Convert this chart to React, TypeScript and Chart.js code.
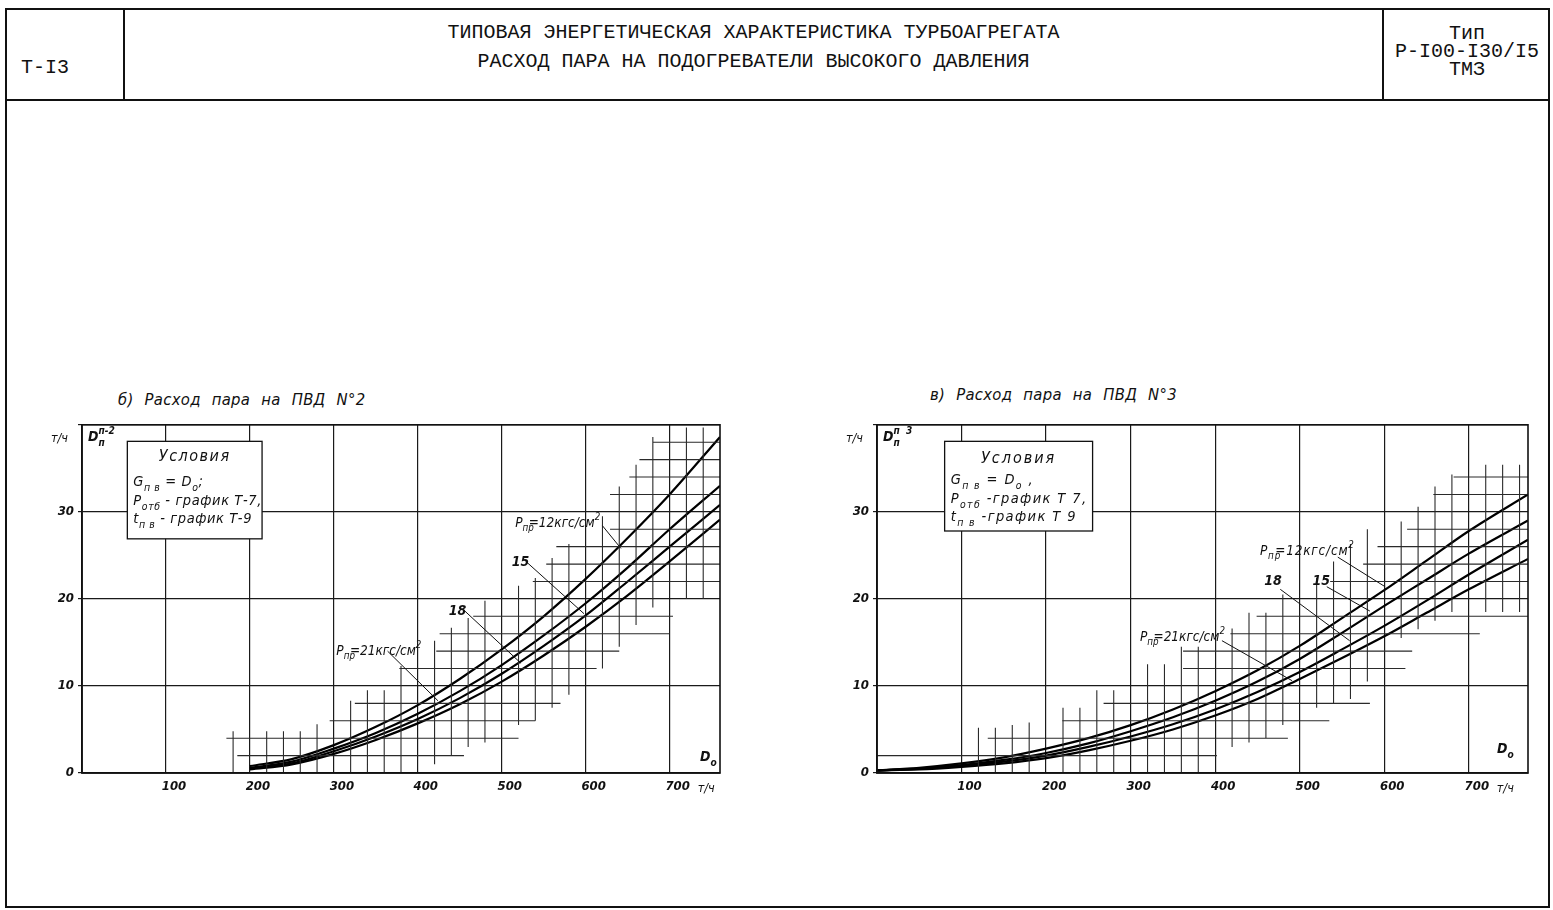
import React, { useEffect, useRef } from "react";
import { Chart, registerables } from "chart.js";
Chart.register(...registerables);

// ---------- data ----------
const X_TICKS = [0, 100, 200, 300, 400, 500, 600, 700];
const Y_TICKS = [0, 10, 20, 30, 40];

// Left chart: ПВД №2
const LEFT_D = [200, 250, 300, 350, 400, 450, 500, 550, 600, 650, 700, 760];
const LEFT_P12 = [0.8, 1.6, 3.2, 5.3, 7.8, 10.8, 14.2, 18.0, 22.3, 27.0, 32.0, 38.6];
const LEFT_P15 = [0.6, 1.3, 2.8, 4.6, 6.8, 9.4, 12.4, 15.8, 19.5, 23.6, 28.0, 33.0];
const LEFT_P18 = [0.5, 1.1, 2.5, 4.2, 6.2, 8.6, 11.4, 14.6, 18.1, 22.0, 26.0, 30.8];
const LEFT_P21 = [0.4, 1.0, 2.2, 3.8, 5.7, 7.9, 10.5, 13.5, 16.8, 20.4, 24.3, 29.1];

// Right chart: ПВД №3
const RIGHT_D = [0, 50, 100, 150, 200, 250, 300, 350, 400, 450, 500, 550, 600, 650, 700, 770];
const RIGHT_P12 = [0.3, 0.6, 1.1, 1.8, 2.8, 4.0, 5.5, 7.3, 9.4, 11.8, 14.6, 17.8, 21.0, 24.4, 27.8, 32.0];
const RIGHT_P15 = [0.3, 0.5, 0.9, 1.5, 2.3, 3.4, 4.8, 6.4, 8.3, 10.5, 13.1, 16.1, 19.2, 22.2, 25.2, 29.0];
const RIGHT_P18 = [0.3, 0.5, 0.8, 1.3, 2.0, 3.0, 4.2, 5.6, 7.3, 9.3, 11.6, 14.2, 16.9, 19.8, 22.8, 26.8];
const RIGHT_P21 = [0.3, 0.4, 0.7, 1.1, 1.7, 2.6, 3.7, 5.0, 6.6, 8.5, 10.8, 13.2, 15.7, 18.4, 21.1, 24.6];

// Fine reading mesh: vertical [D, from, to], horizontal [value, fromD, toD]
const LEFT_MESH_V: number[][] = [
  [180, 0, 4.8], [220, 0, 4.8], [240, 0, 4.8], [260, 0, 4.8], [280, 0, 5.6],
  [320, 0, 8.3], [340, 0, 9.5], [360, 0, 9.5], [380, 0, 12.3],
  [420, 1.0, 15.2], [440, 2.0, 16.7], [460, 3.0, 17.8], [480, 3.5, 19.8],
  [520, 5.5, 21.5], [540, 6.0, 22.4], [560, 7.5, 24.7], [580, 9.0, 26.3],
  [620, 12.0, 29.5], [640, 14.5, 32.9], [660, 17.0, 35.4], [680, 19.0, 38.6],
  [720, 20.0, 39.7], [740, 20.0, 39.7],
];
const LEFT_MESH_H: number[][] = [
  [2, 185, 455], [4, 172, 520], [6, 295, 540], [8, 325, 570],
  [12, 378, 613], [14, 422, 640], [16, 426, 700], [18, 466, 704],
  [22, 537, 760], [24, 553, 760], [26, 565, 760], [28, 629, 760],
  [32, 629, 760], [34, 652, 760], [36, 664, 760], [38, 680, 760],
];
const RIGHT_MESH_V: number[][] = [
  [120, 0, 5.2], [140, 0, 5.2], [160, 0, 5.5], [180, 0, 5.8],
  [220, 0, 7.5], [240, 0, 7.5], [260, 0, 9.5], [280, 0, 9.5],
  [320, 0, 12.5], [340, 0, 12.5], [360, 0, 14.5], [380, 0, 14.5],
  [420, 3.0, 16.6], [440, 3.5, 18.4], [460, 4.0, 18.4], [480, 5.5, 20.5],
  [520, 7.5, 22.4], [540, 8.0, 24.3], [560, 8.5, 26.3], [580, 10.5, 28.0],
  [620, 15.5, 28.9], [640, 16.5, 30.6], [660, 17.5, 32.9], [680, 18.5, 34.3],
  [720, 18.5, 35.4], [740, 18.5, 35.4], [760, 18.5, 35.4],
];
const RIGHT_MESH_H: number[][] = [
  [2, 0, 402], [4, 131, 486], [6, 219, 535], [8, 268, 583],
  [12, 362, 625], [14, 362, 633], [16, 418, 713], [18, 449, 770],
  [22, 536, 770], [24, 575, 770], [26, 592, 770], [28, 627, 770],
  [32, 658, 770], [34, 682, 770],
];

// ---------- helpers ----------
const HAND = '"DejaVu Sans Condensed", "Liberation Sans Narrow", "DejaVu Sans", sans-serif';
const MONO = '"Liberation Mono", "DejaVu Sans Mono", monospace';

type Seg = { t: string; sub?: boolean; sup?: boolean; adv?: number };

function drawRich(ctx: any, x: number, y: number, segs: Seg[], size: number, bold = false, align = "left", spacing = 0) {
  const fontFor = (s: Seg) => {
    const sz = s.sub || s.sup ? size * 0.72 : size;
    return `italic ${bold ? "bold " : ""}${sz}px ${HAND}`;
  };
  ctx.letterSpacing = `${spacing}px`;
  let total = 0;
  segs.forEach((s) => {
    ctx.font = fontFor(s);
    total += ctx.measureText(s.t).width * (s.adv ?? 1);
  });
  let cx = align === "center" ? x - total / 2 : align === "right" ? x - total : x;
  ctx.textAlign = "left";
  ctx.textBaseline = "alphabetic";
  segs.forEach((s) => {
    ctx.font = fontFor(s);
    const dy = s.sub ? size * 0.35 : s.sup ? -size * 0.5 : 0;
    ctx.fillText(s.t, cx, y + dy);
    cx += ctx.measureText(s.t).width * (s.adv ?? 1);
  });
  ctx.letterSpacing = "0px";
}

function meshPoints(vert: number[][], horiz: number[][]) {
  const pts: any[] = [];
  vert.forEach(([d, lo, hi]) => pts.push({ x: d, y: lo }, { x: d, y: hi }, { x: d, y: null }));
  horiz.forEach(([v, a, b]) => pts.push({ x: a, y: v }, { x: b, y: v }, { x: b, y: null }));
  return pts;
}

const sheetPlugin = {
  id: "sheet",
  afterDatasetsDraw(chart: any, _a: any, o: any) {
    const { ctx, chartArea: ca, scales } = chart;
    const X = (v: number) => scales.x.getPixelForValue(v);
    const Y = (v: number) => scales.y.getPixelForValue(v);
    ctx.save();
    ctx.strokeStyle = "#111";
    ctx.fillStyle = "#111";
    ctx.lineWidth = 1.6;
    ctx.strokeRect(ca.left, ca.top, ca.right - ca.left, ca.bottom - ca.top);

    // conditions box
    const b = o.box;
    const bx = X(b.x0), by = Y(b.y0), bw = X(b.x1) - bx, bh = Y(b.y1) - by;
    ctx.fillStyle = "#fff";
    ctx.fillRect(bx, by, bw, bh);
    ctx.lineWidth = 1.3;
    ctx.strokeRect(bx, by, bw, bh);
    ctx.fillStyle = "#111";
    drawRich(ctx, bx + bw / 2, by + b.titleDy, [{ t: "Условия" }], 16, false, "center", b.titleSpacing);
    b.lines.forEach((ln: Seg[], i: number) => drawRich(ctx, bx + 6, by + b.lineDy[i], ln, 14.5, false, "left", b.spacing));

    // curve labels with leaders
    ctx.lineWidth = 1;
    o.labels.forEach((l: any) => {
      drawRich(ctx, X(l.x), Y(l.y), l.segs, l.size, l.bold, "left", l.spacing ?? 0);
      if (l.leader) {
        ctx.beginPath();
        ctx.moveTo(X(l.leader[0]), Y(l.leader[1]));
        ctx.lineTo(X(l.leader[2]), Y(l.leader[3]));
        ctx.stroke();
      }
    });

    // axis symbols
    drawRich(ctx, ca.left + 6, ca.top + 16, o.dsym, 14, true);
    drawRich(ctx, ca.left - 14, ca.top + 17, [{ t: "т/ч" }], 12.5, false, "right");
    drawRich(ctx, ca.right - o.doOff[0], ca.bottom - o.doOff[1], [{ t: "D" }, { t: "o", sub: true }], 14, true);
    drawRich(ctx, X(700) + 28, ca.bottom + 19, [{ t: "т/ч" }], 12.5, false);
    ctx.restore();
  },
};

function curveSet(xs: number[], ys: number[]) {
  return {
    data: xs.map((x, i) => ({ x, y: ys[i] })),
    borderColor: "#000",
    borderWidth: 2.2,
    pointRadius: 0,
    cubicInterpolationMode: "monotone",
    fill: false,
  };
}

function makeConfig(p: any) {
  const tickFont = { family: HAND, size: 13, style: "italic", weight: "bold" };
  return {
    type: "line",
    data: {
      datasets: [
        {
          data: meshPoints(p.meshV, p.meshH),
          borderColor: "#2a2a2a",
          borderWidth: 1.1,
          pointRadius: 0,
          spanGaps: false,
          tension: 0,
          fill: false,
        },
        ...p.curves.map((c: number[]) => curveSet(p.xs, c)),
      ],
    },
    options: {
      responsive: false,
      animation: false,
      devicePixelRatio: 1,
      layout: { padding: { left: 0, top: 10, right: p.padRight, bottom: 0 } },
      plugins: { legend: { display: false }, tooltip: { enabled: false }, sheet: p.sheet },
      scales: {
        x: {
          type: "linear",
          min: 0,
          max: p.xMax,
          afterBuildTicks: (s: any) => { s.ticks = X_TICKS.map((value) => ({ value })); },
          afterFit: (s: any) => { s.height = 30; },
          ticks: {
            callback: (v: number) => (v === 0 ? "" : String(v)),
            font: tickFont,
            color: "#111",
            labelOffset: 8,
            padding: 6,
            maxRotation: 0,
            autoSkip: false,
          },
          grid: { color: "#1a1a1a", lineWidth: 1.2, drawTicks: false },
          border: { color: "#111", width: 1.6 },
        },
        y: {
          type: "linear",
          min: 0,
          max: 40,
          afterBuildTicks: (s: any) => { s.ticks = Y_TICKS.map((value) => ({ value })); },
          afterFit: (s: any) => { s.width = 50; },
          ticks: {
            callback: (v: number) => (v === 40 ? "" : String(v)),
            font: tickFont,
            color: "#111",
            padding: 4,
          },
          grid: { color: "#1a1a1a", lineWidth: 1.2, drawTicks: true, tickLength: 4 },
          border: { color: "#111", width: 1.6 },
        },
      },
    },
    plugins: [sheetPlugin],
  };
}

const P_LABEL = (n: string): Seg[] => [
  { t: "P" }, { t: "пр", sub: true, adv: 0.55 }, { t: "=" + n + "кгс/см" }, { t: "2", sup: true },
];

const LEFT_SHEET = {
  box: {
    x0: 54, y0: 38.1, x1: 214.5, y1: 26.9, titleDy: 20, lineDy: [45, 64, 82],
    titleSpacing: 1.5, spacing: 0.6,
    lines: [
      [{ t: "G" }, { t: "п в", sub: true }, { t: " = D" }, { t: "o", sub: true }, { t: ";" }],
      [{ t: "P" }, { t: "отб", sub: true }, { t: " - график Т-7," }],
      [{ t: "t" }, { t: "п в", sub: true }, { t: " - график Т-9" }],
    ],
  },
  labels: [
    { x: 516, y: 28.3, segs: P_LABEL("12"), size: 13.5, leader: [620, 28.4, 642, 25.8] },
    { x: 512, y: 23.8, segs: [{ t: "15" }], size: 14, bold: true, leader: [530, 24.2, 598, 18.3] },
    { x: 437, y: 18.1, segs: [{ t: "18" }], size: 14, bold: true, leader: [455, 18.7, 523, 12.6] },
    { x: 303, y: 13.6, segs: P_LABEL("21"), size: 13.5, leader: [364, 14.0, 424, 8.3] },
  ],
  dsym: [{ t: "D" }, { t: "п", sub: true, adv: 0 }, { t: "п-2", sup: true }],
  doOff: [20, 12],
};

const RIGHT_SHEET = {
  box: {
    x0: 80, y0: 38.1, x1: 255, y1: 27.8, titleDy: 22, lineDy: [43, 62, 80],
    titleSpacing: 2, spacing: 1.4,
    lines: [
      [{ t: "G" }, { t: "п в", sub: true }, { t: " = D" }, { t: "o", sub: true }, { t: " ," }],
      [{ t: "P" }, { t: "отб", sub: true }, { t: " -график Т 7," }],
      [{ t: "t" }, { t: "п в", sub: true }, { t: " -график Т 9" }],
    ],
  },
  labels: [
    { x: 453, y: 25.1, segs: P_LABEL("12"), size: 13.5, spacing: 0.8, leader: [545, 24.8, 601, 21.4] },
    { x: 458, y: 21.6, segs: [{ t: "18" }], size: 14, bold: true, leader: [477, 21.1, 559, 15.2] },
    { x: 515, y: 21.6, segs: [{ t: "15" }], size: 14, bold: true, leader: [532, 21.4, 583, 18.6] },
    { x: 311, y: 15.2, segs: P_LABEL("21"), size: 13.5, leader: [408, 15.2, 491, 10.6] },
  ],
  dsym: [{ t: "D" }, { t: "п", sub: true, adv: 0 }, { t: "п  3", sup: true }],
  doOff: [31, 20],
};

function ChartCanvas(props: { cfg: any; left: number; top: number; width: number; height: number }) {
  const ref = useRef<HTMLCanvasElement>(null);
  useEffect(() => {
    const chart = new Chart(ref.current as HTMLCanvasElement, props.cfg);
    return () => chart.destroy();
  }, []);
  return (
    <canvas
      ref={ref}
      width={props.width}
      height={props.height}
      style={{ position: "absolute", left: props.left, top: props.top, width: props.width, height: props.height }}
    />
  );
}

export default function App() {
  const leftCfg = makeConfig({
    xs: LEFT_D, curves: [LEFT_P12, LEFT_P15, LEFT_P18, LEFT_P21], xMax: 760,
    meshV: LEFT_MESH_V, meshH: LEFT_MESH_H, sheet: LEFT_SHEET, padRight: 30,
  });
  const rightCfg = makeConfig({
    xs: RIGHT_D, curves: [RIGHT_P12, RIGHT_P15, RIGHT_P18, RIGHT_P21], xMax: 770,
    meshV: RIGHT_MESH_V, meshH: RIGHT_MESH_H, sheet: RIGHT_SHEET, padRight: 20,
  });
  const line = (l: number, t: number, w: number, h: number) => (
    <div style={{ position: "absolute", left: l, top: t, width: w, height: h, background: "#111" }} />
  );
  const mono = { fontFamily: MONO, fontSize: 20, color: "#111", whiteSpace: "pre" as const, lineHeight: 1 };
  const title = { position: "absolute" as const, fontFamily: HAND, fontStyle: "italic", fontSize: 16.5, wordSpacing: 6, letterSpacing: 0.3, color: "#111", whiteSpace: "pre" as const };
  return (
    <div style={{ position: "absolute", left: 0, top: 0, width: 1553, height: 910, background: "#fff", overflow: "hidden" }}>
      {line(5, 8, 1545, 2)}
      {line(5, 8, 2, 900)}
      {line(1548, 8, 2, 900)}
      {line(5, 906, 1545, 2)}
      {line(5, 99, 1545, 2)}
      {line(123, 8, 2, 92)}
      {line(1382, 8, 2, 92)}
      <div style={{ ...mono, position: "absolute", left: 21, top: 58 }}>Т-I3</div>
      <div style={{ ...mono, position: "absolute", left: 125, width: 1257, top: 23, textAlign: "center" }}>
        ТИПОВАЯ ЭНЕРГЕТИЧЕСКАЯ ХАРАКТЕРИСТИКА ТУРБОАГРЕГАТА
      </div>
      <div style={{ ...mono, position: "absolute", left: 125, width: 1257, top: 52, textAlign: "center" }}>
        РАСХОД ПАРА НА ПОДОГРЕВАТЕЛИ ВЫСОКОГО ДАВЛЕНИЯ
      </div>
      <div style={{ ...mono, position: "absolute", left: 1384, width: 166, top: 24, textAlign: "center" }}>Тип</div>
      <div style={{ ...mono, position: "absolute", left: 1384, width: 166, top: 42, textAlign: "center" }}>Р-I00-I30/I5</div>
      <div style={{ ...mono, position: "absolute", left: 1384, width: 166, top: 60, textAlign: "center" }}>ТМЗ</div>

      <div style={{ ...title, left: 118, top: 390 }}>б) Расход пара на ПВД N°2</div>
      <div style={{ ...title, left: 930, top: 385 }}>в) Расход пара на ПВД N°3</div>

      <ChartCanvas cfg={leftCfg} left={32} top={413} width={718} height={390} />
      <ChartCanvas cfg={rightCfg} left={827} top={413} width={721} height={390} />
    </div>
  );
}
